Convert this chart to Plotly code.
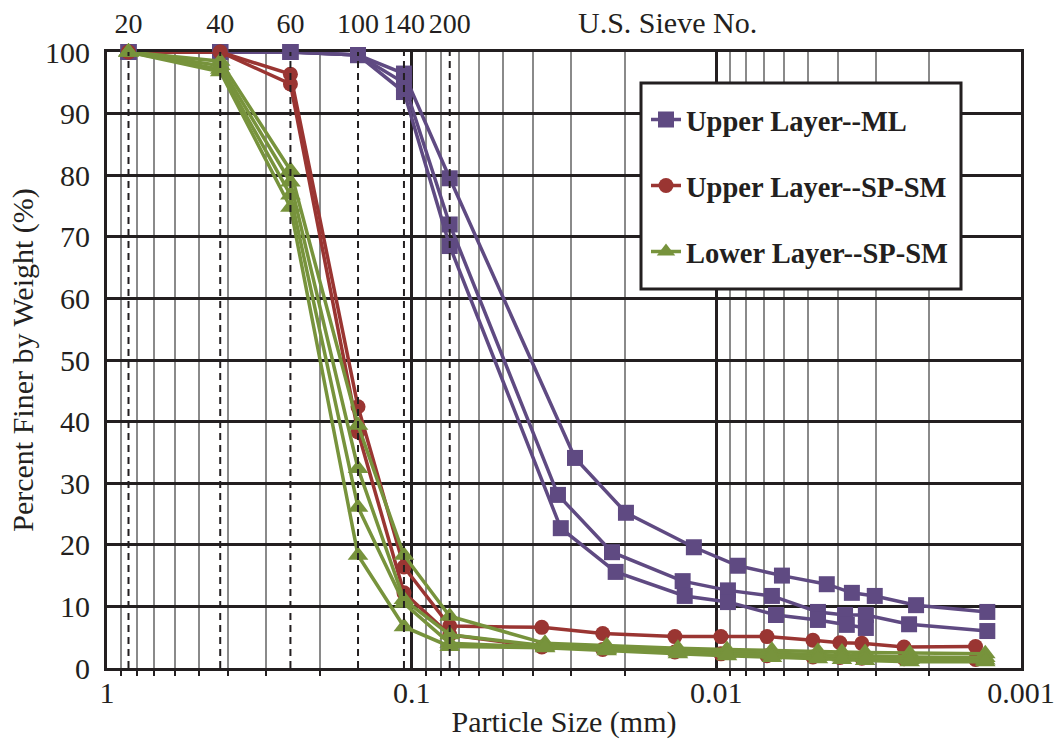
import plotly.graph_objects as go

# ---- U.S. sieve openings (mm) and their numbers ----
sieve_no = ["20", "40", "60", "100", "140", "200"]
sieve_mm = [0.85, 0.425, 0.25, 0.15, 0.106, 0.075]

# ---- Upper Layer -- ML (three samples) ----
ml_a_size = [0.85, 0.425, 0.25, 0.15, 0.106, 0.075, 0.0291, 0.0198, 0.01185, 0.00849, 0.00609, 0.00434, 0.00359, 0.00302, 0.00221, 0.00129]
ml_a_pct = [100, 100, 100, 99.5, 96.5, 79.5, 34.1, 25.2, 19.6, 16.6, 15.0, 13.6, 12.2, 11.7, 10.2, 9.1]
ml_b_size = [0.85, 0.425, 0.25, 0.15, 0.106, 0.075, 0.0331, 0.0220, 0.0129, 0.00916, 0.00657, 0.00464, 0.00378, 0.00323, 0.00233, 0.00129]
ml_b_pct = [100, 100, 100, 99.5, 95.0, 72.0, 28.1, 18.8, 14.1, 12.6, 11.7, 9.1, 8.6, 8.6, 7.1, 6.0]
ml_c_size = [0.85, 0.425, 0.25, 0.15, 0.106, 0.075, 0.0324, 0.0214, 0.0127, 0.00916, 0.00637, 0.00464, 0.00373, 0.00323]
ml_c_pct = [100, 100, 100, 99.5, 93.5, 68.5, 22.7, 15.6, 11.7, 10.7, 8.6, 7.8, 7.0, 6.5]

# ---- Upper Layer -- SP-SM (two samples) ----
spu_size = [0.85, 0.425, 0.25, 0.15, 0.106, 0.075, 0.0374, 0.0236, 0.01368, 0.00966, 0.00682, 0.00482, 0.00393, 0.00333, 0.00242, 0.00141]
spu_1_pct = [100, 100, 96.4, 42.4, 16.4, 6.8, 6.6, 5.6, 5.1, 5.1, 5.1, 4.5, 4.1, 4.0, 3.4, 3.5]
spu_2_pct = [100, 100, 94.8, 38.3, 12.2, 5.4, 3.4, 3.0, 2.6, 2.3, 2.0, 1.8, 1.7, 1.6, 1.5, 1.4]

# ---- Lower Layer -- SP-SM (four samples) ----
spl_size = [0.85, 0.425, 0.25, 0.15, 0.106, 0.075, 0.0365, 0.0229, 0.01337, 0.00923, 0.00657, 0.00464, 0.00387, 0.00325, 0.00232, 0.00131]
spl_1_pct = [100, 98.5, 80.8, 39.4, 18.3, 8.4, 4.0, 3.6, 3.2, 3.0, 2.9, 2.7, 2.6, 2.5, 2.4, 2.3]
spl_2_pct = [100, 97.8, 78.9, 32.4, 11.1, 5.4, 3.6, 3.2, 2.8, 2.6, 2.4, 2.2, 2.1, 2.0, 1.8, 1.7]
spl_3_pct = [100, 97.2, 76.8, 26.1, 10.5, 4.0, 3.4, 3.0, 2.6, 2.3, 2.1, 1.9, 1.8, 1.7, 1.4, 1.3]
spl_4_pct = [100, 96.8, 74.8, 18.3, 6.7, 3.5, 3.3, 2.8, 2.3, 2.0, 1.7, 1.5, 1.4, 1.2, 1.0, 1.0]

decades = [1, 0.1, 0.01, 0.001]
decade_labels = ["1", "0.1", "0.01", "0.001"]
minor_vals = [d * k for d in (0.1, 0.01, 0.001) for k in range(2, 10)]

PURPLE = "#5f4a82"
RED = "#9a3532"
GREEN = "#77933c"
INK = "#231f20"
FONT = "Liberation Serif"

fig = go.Figure()

# dashed sieve reference lines (drawn on the top sieve axis)
for s in sieve_mm:
    fig.add_trace(go.Scatter(
        x=[s, s], y=[0, 100], mode="lines", xaxis="x2", yaxis="y",
        line=dict(color=INK, width=2, dash="7px,5px"),
        showlegend=False, hoverinfo="skip", cliponaxis=False,
    ))

def add_series(sizes, pcts, color, symbol, msize, name, legend, show):
    fig.add_trace(go.Scatter(
        x=sizes, y=pcts, mode="lines+markers", name=name,
        line=dict(color=color, width=3.5),
        marker=dict(symbol=symbol, size=msize, color=color),
        legend=legend, showlegend=show, cliponaxis=False,
    ))

add_series(ml_a_size, ml_a_pct, PURPLE, "square", 16, "Upper Layer--ML", "legend", True)
add_series(ml_b_size, ml_b_pct, PURPLE, "square", 16, "Upper Layer--ML", "legend", False)
add_series(ml_c_size, ml_c_pct, PURPLE, "square", 16, "Upper Layer--ML", "legend", False)
add_series(spu_size, spu_1_pct, RED, "circle", 15, "Upper Layer--SP-SM", "legend2", True)
add_series(spu_size, spu_2_pct, RED, "circle", 15, "Upper Layer--SP-SM", "legend2", False)
add_series(spl_size, spl_1_pct, GREEN, "triangle-up", 18, "Lower Layer--SP-SM", "legend3", True)
add_series(spl_size, spl_2_pct, GREEN, "triangle-up", 18, "Lower Layer--SP-SM", "legend3", False)
add_series(spl_size, spl_3_pct, GREEN, "triangle-up", 18, "Lower Layer--SP-SM", "legend3", False)
add_series(spl_size, spl_4_pct, GREEN, "triangle-up", 18, "Lower Layer--SP-SM", "legend3", False)

L, R, T, B = 107, 43, 52, 78
W, H = 1064, 746
pw, ph = W - L - R, H - T - B

def px_x(p):
    return (p - L) / pw

def px_y(p):
    return (H - B - p) / ph

legend_font = dict(family=FONT, size=28.5, color=INK, weight="bold")
leg_common = dict(bgcolor="rgba(0,0,0,0)", borderwidth=0, font=legend_font,
                  xanchor="left", yanchor="middle", itemwidth=30)

fig.update_layout(
    width=W, height=H,
    margin=dict(l=L, r=R, t=T, b=B, autoexpand=False),
    paper_bgcolor="white", plot_bgcolor="white",
    font=dict(family=FONT, size=30, color=INK),
    xaxis=dict(
        type="log", range=[0, -3], tickmode="array",
        tickvals=decades, ticktext=decade_labels, automargin=False,
        showgrid=True, gridcolor=INK, gridwidth=3,
        showline=True, linecolor=INK, linewidth=3, mirror=True,
        ticks="", ticklabelstandoff=-4, zeroline=False,
        tickfont=dict(family=FONT, size=30, color=INK),
        title=dict(text="Particle Size (mm)", font=dict(family=FONT, size=30, color=INK), standoff=3),
        minor=dict(tickmode="array", tickvals=minor_vals, showgrid=True,
                   gridcolor="#8a8a8a", gridwidth=2, ticks="outside",
                   ticklen=5, tickwidth=2, tickcolor=INK),
        layer="below traces",
    ),
    xaxis2=dict(
        type="log", range=[0, -3], overlaying="x", side="top", automargin=False,
        tickmode="array", tickvals=sieve_mm, ticktext=sieve_no, tickangle=0,
        showgrid=False, showline=False, ticks="", zeroline=False,
        ticklabelstandoff=12,
        tickfont=dict(family=FONT, size=28, color=INK),
    ),
    yaxis=dict(
        range=[0, 100], tickmode="array", tickvals=list(range(0, 101, 10)),
        showgrid=True, gridcolor=INK, gridwidth=3, automargin=False,
        showline=True, linecolor=INK, linewidth=3, mirror=True,
        ticks="", ticklabelstandoff=8, zeroline=False,
        tickfont=dict(family=FONT, size=30, color=INK),
        title=dict(text="Percent Finer by Weight (%)", font=dict(family=FONT, size=30, color=INK), standoff=3),
        layer="below traces",
    ),
    legend=dict(x=px_x(646), y=px_y(120), **leg_common),
    legend2=dict(x=px_x(646), y=px_y(186), **leg_common),
    legend3=dict(x=px_x(646), y=px_y(252), **leg_common),
    shapes=[dict(
        type="rect", xref="paper", yref="paper",
        x0=px_x(641), x1=px_x(961), y0=px_y(289), y1=px_y(83),
        line=dict(color=INK, width=3), fillcolor="white", layer="above",
    )],
    annotations=[dict(
        text="U.S. Sieve No.", xref="paper", yref="paper",
        x=px_x(667), y=px_y(22), xanchor="center", yanchor="middle",
        showarrow=False, font=dict(family=FONT, size=30, color=INK),
    )],
    showlegend=True,
)

fig.write_html("out.html")
